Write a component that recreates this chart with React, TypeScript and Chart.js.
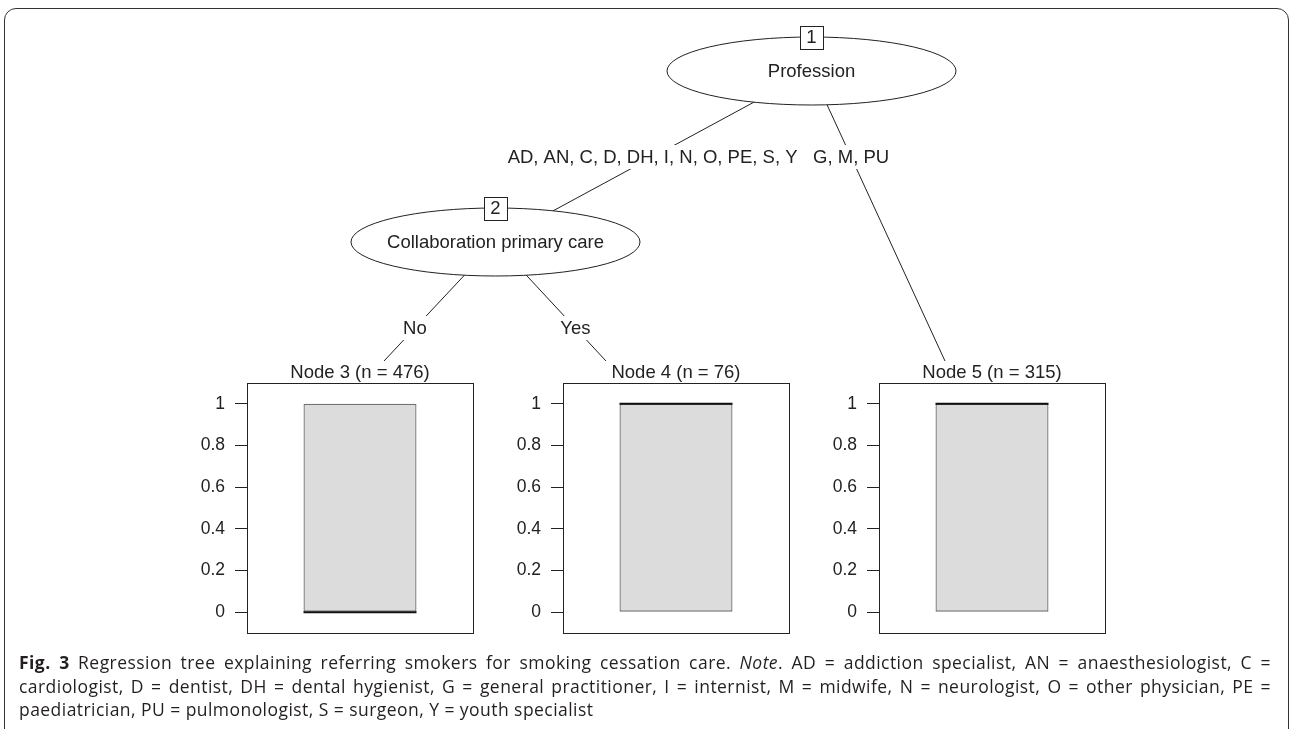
import React, { useEffect, useRef } from "react";
import { Chart, registerables } from "chart.js";

Chart.register(...registerables);

// ---- data ----
const nodeIds = [3, 4, 5];
const nodeCounts = [476, 76, 315];
const boxLower = [0, 0, 0];
const boxUpper = [1, 1, 1];
const medians = [0, 1, 1];
const yTickValues = [0, 0.2, 0.4, 0.6, 0.8, 1];
const yTickLabels = ["0", "0.2", "0.4", "0.6", "0.8", "1"];
const innerNodeLabels = ["Profession", "Collaboration primary care"];
const innerNodeIds = [1, 2];
const edgeLabels = ["AD, AN, C, D, DH, I, N, O, PE, S, Y", "G, M, PU", "No", "Yes"];
const captionLines = [
  "Regression tree explaining referring smokers for smoking cessation care.",
  "AD = addiction specialist, AN = anaesthesiologist, C =",
  "cardiologist, D = dentist, DH = dental hygienist, G = general practitioner, I = internist, M = midwife, N = neurologist, O = other physician, PE =",
  "paediatrician, PU = pulmonologist, S = surgeon, Y = youth specialist",
];

// ---- layout ----
const W = 1292;
const H = 729;
const PANEL_LEFT = [247, 563, 879];
const PANEL_TOP = 383;
const PANEL_W = 226;
const PANEL_H = 250;
const AXIS_W = 60;
const PAD = 6;
const TREE_FONT = "18.5px 'Liberation Sans', Arial, sans-serif";
const TICK_FONT = 17.5;
const INK = "#222";

const ELLIPSES = [
  { cx: 811.5, cy: 71, rx: 144.5, ry: 34 },
  { cx: 495.5, cy: 242, rx: 144.5, ry: 34 },
];
const EDGES = [
  { from: 0, to: [495.5, 242], labelY: 157 },
  { from: 0, to: [945, 361], labelY: 157 },
  { from: 1, to: [384, 361], labelY: 328 },
  { from: 1, to: [606, 361], labelY: 328 },
];
const TITLE_Y = 372.5;

function drawTree(ctx: CanvasRenderingContext2D) {
  ctx.save();
  ctx.fillStyle = "#fff";
  ctx.fillRect(0, 0, W, H);
  ctx.strokeStyle = INK;
  ctx.lineWidth = 1;
  ctx.font = TREE_FONT;
  ctx.textAlign = "center";
  ctx.textBaseline = "middle";

  EDGES.forEach((e) => {
    const s = ELLIPSES[e.from];
    ctx.beginPath();
    ctx.moveTo(s.cx, s.cy);
    ctx.lineTo(e.to[0], e.to[1]);
    ctx.stroke();
  });
  ELLIPSES.forEach((el, i) => {
    ctx.beginPath();
    ctx.ellipse(el.cx, el.cy, el.rx, el.ry, 0, 0, Math.PI * 2);
    ctx.fillStyle = "#fff";
    ctx.fill();
    ctx.stroke();
    ctx.fillStyle = INK;
    ctx.fillText(innerNodeLabels[i], el.cx, el.cy + 1);
    const bx = el.cx - 11.5;
    const by = el.cy - el.ry - 11.5;
    ctx.fillStyle = "#fff";
    ctx.fillRect(bx, by, 23, 23);
    ctx.strokeRect(Math.round(bx) + 0.5, Math.round(by) + 0.5, 23, 23);
    ctx.fillStyle = INK;
    ctx.fillText(String(innerNodeIds[i]), el.cx, el.cy - el.ry + 0.5);
  });
  EDGES.forEach((e, i) => {
    const s = ELLIPSES[e.from];
    const t = (e.labelY - s.cy) / (e.to[1] - s.cy);
    const x = s.cx + t * (e.to[0] - s.cx);
    const w = ctx.measureText(edgeLabels[i]).width;
    ctx.fillStyle = "#fff";
    ctx.fillRect(x - w / 2 - 3, e.labelY - 12, w + 6, 24);
    ctx.fillStyle = INK;
    ctx.fillText(edgeLabels[i], x, e.labelY + 1);
  });
  nodeIds.forEach((id, i) => {
    const cx = PANEL_LEFT[i] + PANEL_W / 2;
    ctx.fillStyle = INK;
    ctx.fillText(`Node ${id} (n = ${nodeCounts[i]})`, cx, TITLE_Y);
  });
  ctx.restore();
}

function TreeCanvas() {
  const ref = useRef<HTMLCanvasElement>(null);
  useEffect(() => {
    const treePlugin = {
      id: "tree",
      beforeDraw(chart: any) {
        drawTree(chart.ctx);
      },
    };
    const chart = new Chart(ref.current!, {
      type: "scatter",
      data: { datasets: [] },
      options: {
        responsive: false,
        animation: false,
        devicePixelRatio: 1,
        events: [],
        plugins: { legend: { display: false }, tooltip: { enabled: false } },
        scales: { x: { display: false }, y: { display: false } },
      },
      plugins: [treePlugin],
    });
    return () => chart.destroy();
  }, []);
  return (
    <canvas
      ref={ref}
      width={W}
      height={H}
      style={{ position: "absolute", left: 0, top: 0, width: W, height: H }}
    />
  );
}

function NodePanel({ index }: { index: number }) {
  const ref = useRef<HTMLCanvasElement>(null);
  useEffect(() => {
    const framePlugin = {
      id: "frame",
      afterDraw(chart: any) {
        const { ctx, chartArea } = chart;
        ctx.save();
        ctx.strokeStyle = INK;
        ctx.lineWidth = 1;
        ctx.strokeRect(
          Math.round(chartArea.left) + 0.5,
          Math.round(chartArea.top) + 0.5,
          Math.round(chartArea.right - chartArea.left),
          Math.round(chartArea.bottom - chartArea.top)
        );
        ctx.restore();
      },
    };
    const medianPlugin = {
      id: "median",
      afterDatasetsDraw(chart: any) {
        const meta = chart.getDatasetMeta(0);
        const bar = meta.data[0];
        if (!bar) return;
        const { x, width } = bar.getProps(["x", "width"], true);
        const y = chart.scales.y.getPixelForValue(medians[index]);
        const ctx = chart.ctx;
        ctx.save();
        ctx.strokeStyle = "#111";
        ctx.lineWidth = 2;
        ctx.beginPath();
        ctx.moveTo(x - width / 2, y);
        ctx.lineTo(x + width / 2, y);
        ctx.stroke();
        ctx.restore();
      },
    };
    const chart = new Chart(ref.current!, {
      type: "bar",
      data: {
        labels: [`Node ${nodeIds[index]}`],
        datasets: [
          {
            data: [[boxLower[index], boxUpper[index]]] as any,
            backgroundColor: "#dcdcdc",
            borderColor: "#707070",
            borderWidth: 1.3,
            borderSkipped: false,
            barPercentage: 0.5,
            categoryPercentage: 1,
          },
        ],
      },
      options: {
        responsive: false,
        animation: false,
        devicePixelRatio: 1,
        events: [],
        layout: { padding: { top: PAD, right: PAD, bottom: PAD, left: 0 } },
        plugins: { legend: { display: false }, tooltip: { enabled: false } },
        scales: {
          x: { display: false, offset: true },
          y: {
            min: -0.1,
            max: 1.1,
            afterFit: (s: any) => {
              s.width = AXIS_W;
              s.paddingTop = 0;
              s.paddingBottom = 0;
            },
            afterBuildTicks: (s: any) => {
              s.ticks = yTickValues.map((v) => ({ value: v }));
            },
            ticks: {
              callback: (_v: any, i: number) => yTickLabels[i],
              font: { family: "'Liberation Sans', Arial, sans-serif", size: TICK_FONT },
              color: INK,
              padding: 10,
            },
            grid: {
              drawOnChartArea: false,
              drawTicks: true,
              tickLength: 12,
              color: INK,
              tickColor: INK,
              lineWidth: 1,
            },
            border: { display: true, color: INK, width: 1 },
          },
        },
      },
      plugins: [framePlugin, medianPlugin],
    });
    return () => chart.destroy();
  }, [index]);
  const cw = AXIS_W + PANEL_W + PAD;
  const ch = PANEL_H + 2 * PAD;
  return (
    <canvas
      ref={ref}
      width={cw}
      height={ch}
      style={{
        position: "absolute",
        left: PANEL_LEFT[index] - AXIS_W,
        top: PANEL_TOP - PAD,
        width: cw,
        height: ch,
      }}
    />
  );
}

const lineStyle: React.CSSProperties = {
  width: 1252,
  whiteSpace: "nowrap",
  height: 23.5,
};
const justified: React.CSSProperties = {
  ...lineStyle,
  whiteSpace: "normal",
  textAlign: "justify",
  textAlignLast: "justify",
};

export default function App() {
  return (
    <div
      style={{
        position: "absolute",
        left: 0,
        top: 0,
        width: W,
        height: H,
        overflow: "hidden",
        background: "#fff",
      }}
    >
      <TreeCanvas />
      {nodeIds.map((_, i) => (
        <NodePanel key={i} index={i} />
      ))}
      <div
        style={{
          position: "absolute",
          left: 4,
          top: 8,
          width: 1285,
          height: 760,
          boxSizing: "border-box",
          border: "1.5px solid #333",
          borderRadius: 12,
          pointerEvents: "none",
        }}
      />
      <div
        style={{
          position: "absolute",
          left: 19,
          top: 651,
          fontFamily: "'Open Sans', sans-serif",
          fontSize: 17.5,
          letterSpacing: 0.45,
          lineHeight: "23.5px",
          color: "#231f20",
        }}
      >
        <div style={justified}>
          <b>Fig. 3</b> {captionLines[0]} <i>Note</i>. {captionLines[1]}
        </div>
        <div style={justified}>{captionLines[2]}</div>
        <div style={lineStyle}>{captionLines[3]}</div>
      </div>
    </div>
  );
}
